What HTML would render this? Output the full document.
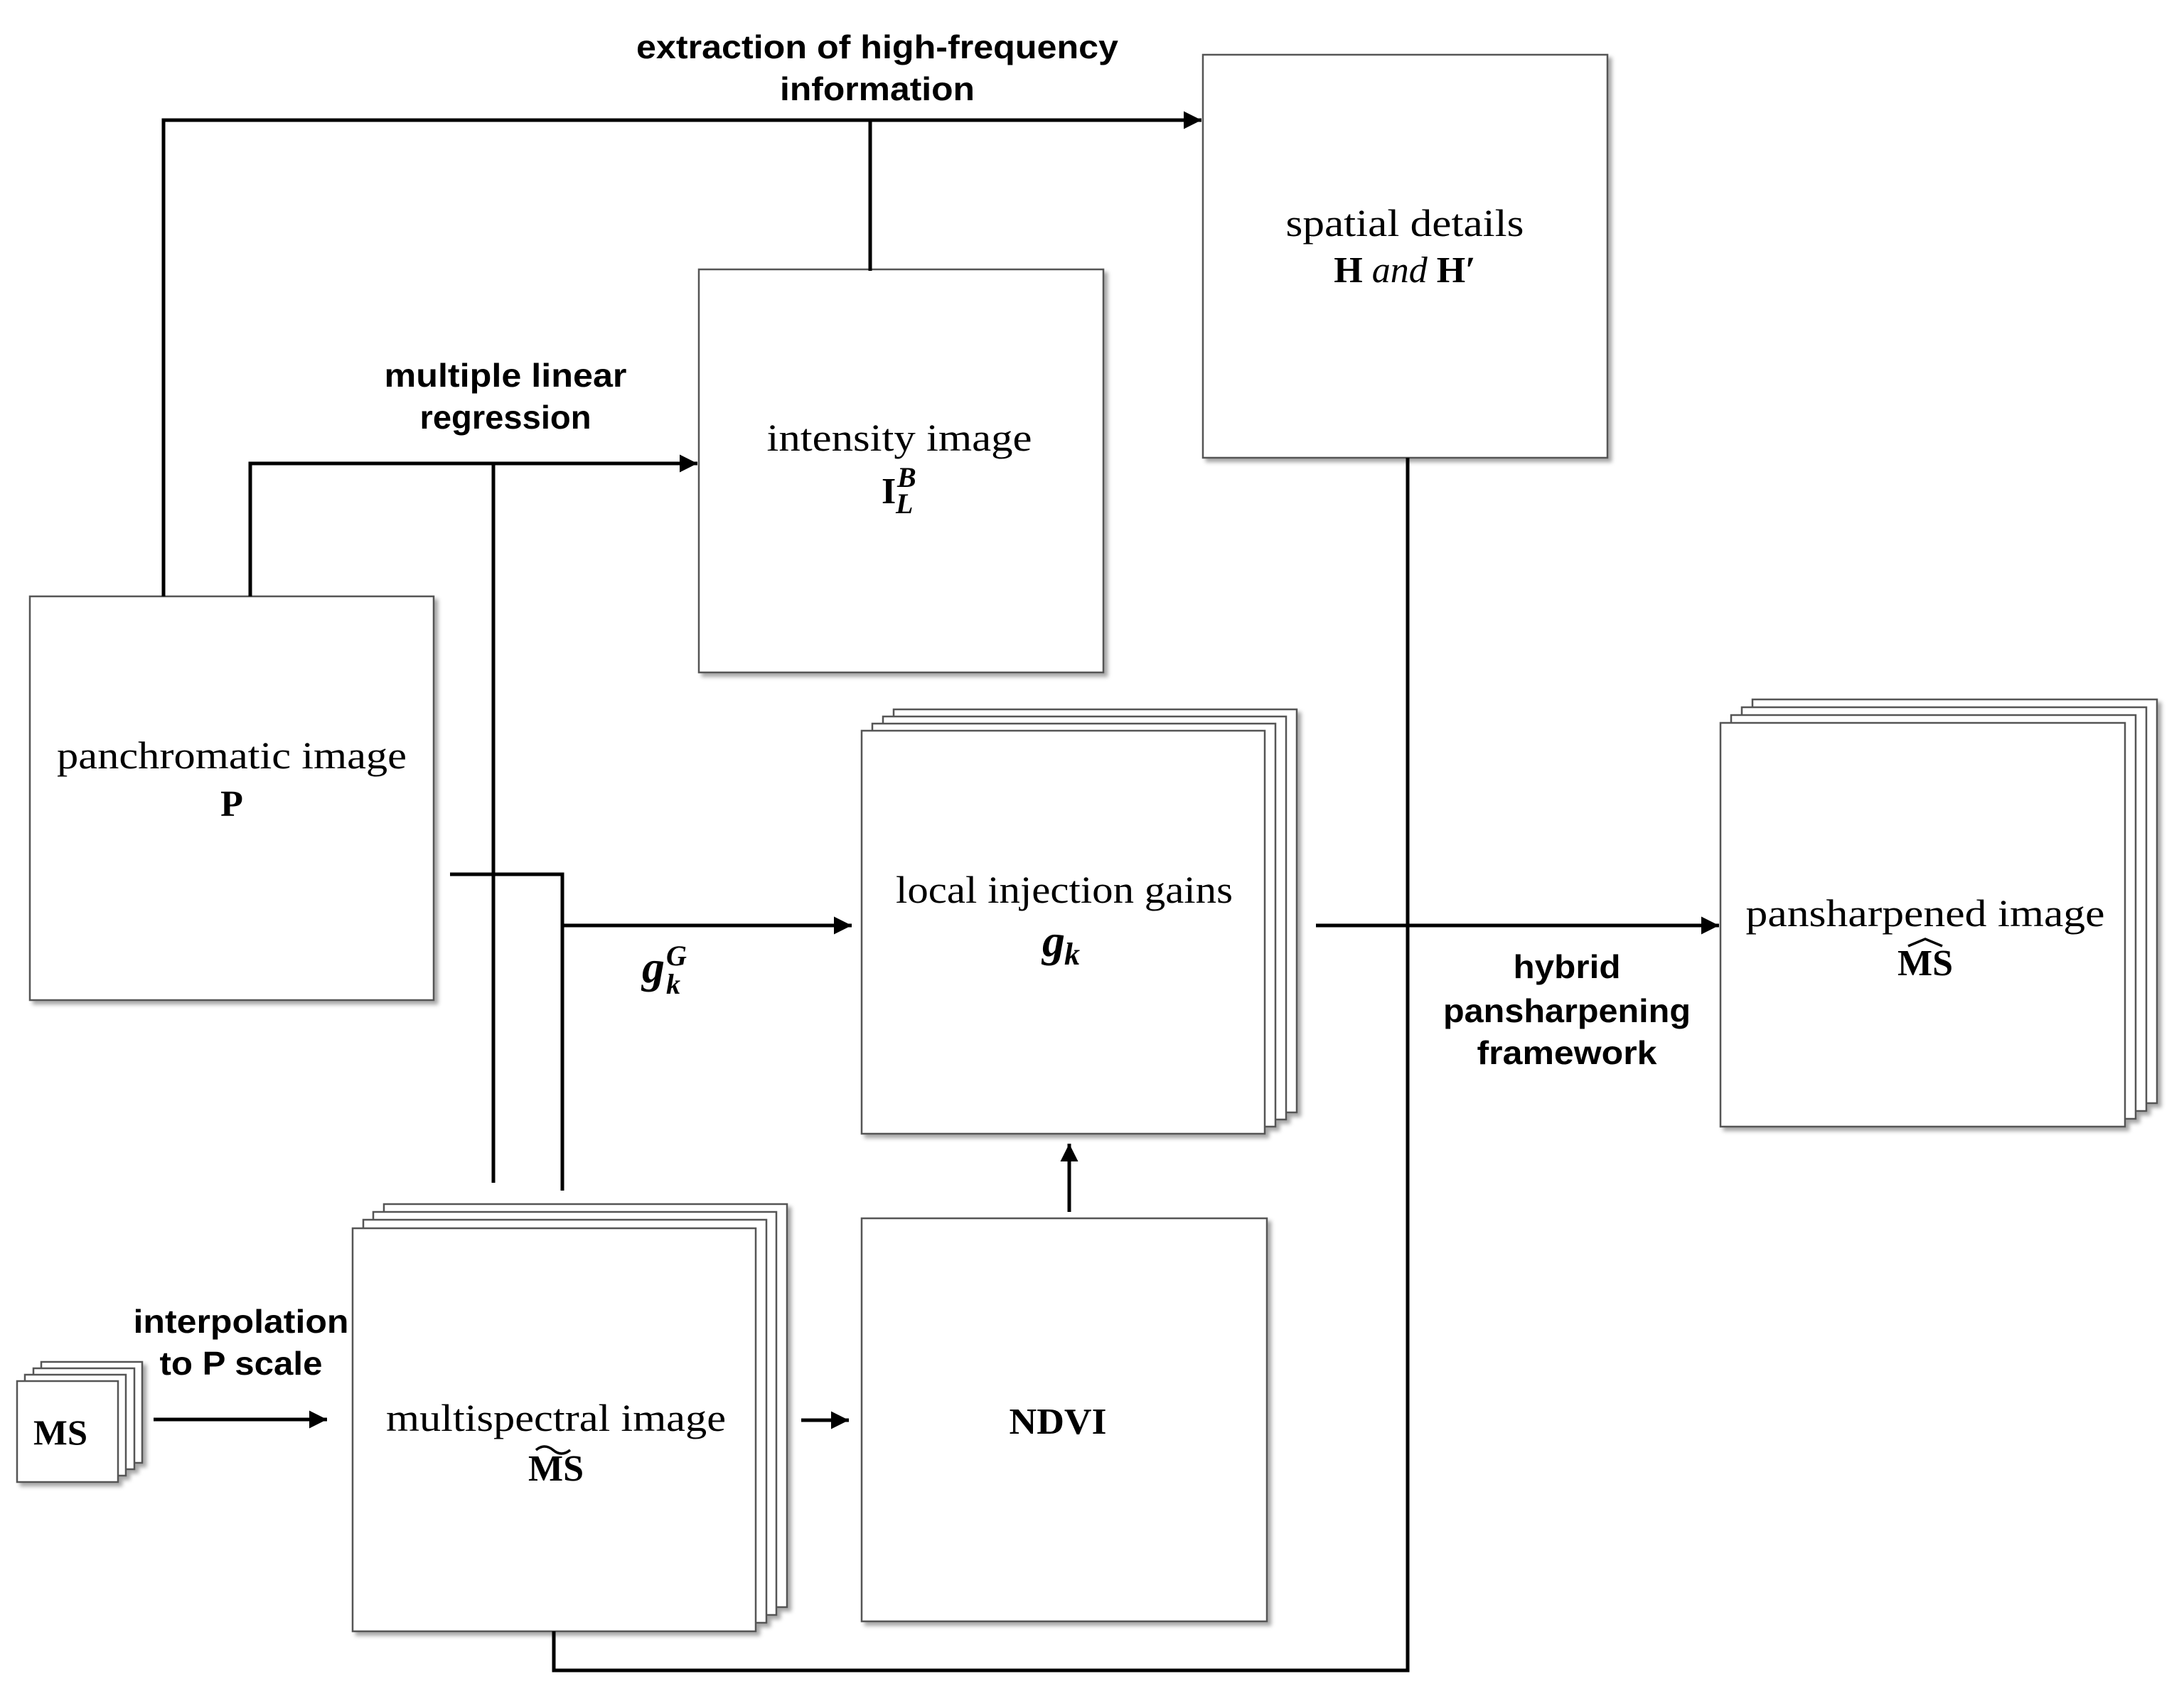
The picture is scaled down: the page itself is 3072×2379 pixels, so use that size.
<!DOCTYPE html>
<html><head><meta charset="utf-8"><style>
html,body{margin:0;padding:0;background:#fff;}
svg{display:block;}
.b{font-family:"Liberation Sans",sans-serif;font-weight:bold;font-size:46px;fill:#000;}
.s{font-family:"Liberation Serif",serif;font-size:54px;fill:#000;}
.m{font-family:"Liberation Serif",serif;font-size:52px;fill:#000;}
</style></head><body>
<svg width="3072" height="2379" viewBox="0 0 3072 2379" xmlns="http://www.w3.org/2000/svg">
<defs>
<filter id="sh" x="-5%" y="-5%" width="115%" height="115%">
<feDropShadow dx="5" dy="5" stdDeviation="3" flood-color="#000" flood-opacity="0.35"/>
</filter>
<marker id="ar" viewBox="0 0 10 10" refX="10" refY="5" markerWidth="5" markerHeight="5" orient="auto" markerUnits="strokeWidth">
<path d="M0,0 L10,5 L0,10 z" fill="#000"/>
</marker>
</defs>
<g fill="#fff" stroke="#555" stroke-width="2.5" filter="url(#sh)">
<rect x="1692" y="77" width="569" height="567"/>
<rect x="983" y="379" width="569" height="567"/>
<rect x="42" y="839" width="568" height="568"/>
<rect x="1257" y="998" width="567" height="567"/>
<rect x="1242" y="1008" width="567" height="567"/>
<rect x="1227" y="1018" width="567" height="567"/>
<rect x="1212" y="1028" width="567" height="567"/>
<rect x="2465" y="984" width="569" height="568"/>
<rect x="2450" y="995" width="569" height="568"/>
<rect x="2435" y="1006" width="569" height="568"/>
<rect x="2420" y="1017" width="569" height="568"/>
<rect x="1212" y="1714" width="570" height="567"/>
<rect x="540" y="1694" width="567" height="567"/>
<rect x="525" y="1705" width="567" height="567"/>
<rect x="511" y="1716" width="567" height="567"/>
<rect x="496" y="1728" width="567" height="567"/>
<rect x="58" y="1916" width="142" height="142"/>
<rect x="47" y="1925" width="142" height="142"/>
<rect x="35" y="1934" width="142" height="142"/>
<rect x="24" y="1943" width="142" height="142"/>
</g>
<g stroke="#000" stroke-width="5" fill="none">
<polyline points="230,839 230,169 1690,169" marker-end="url(#ar)"/>
<line x1="1224" y1="169" x2="1224" y2="381"/>
<polyline points="352,839 352,652 981,652" marker-end="url(#ar)"/>
<line x1="694" y1="652" x2="694" y2="1664"/>
<polyline points="633,1230 791,1230 791,1675"/>
<line x1="791" y1="1302" x2="1198" y2="1302" marker-end="url(#ar)"/>
<line x1="1851" y1="1302" x2="2418" y2="1302" marker-end="url(#ar)"/>
<polyline points="779,2295 779,2350 1980,2350 1980,644"/>
<line x1="1504" y1="1705" x2="1504" y2="1609" marker-end="url(#ar)"/>
<line x1="1127" y1="1998" x2="1194" y2="1998" marker-end="url(#ar)"/>
<line x1="216" y1="1997" x2="460" y2="1997" marker-end="url(#ar)"/>
</g>
<g class="b" text-anchor="middle">
<text x="1234" y="82" textLength="678" lengthAdjust="spacingAndGlyphs">extraction of high-frequency</text>
<text x="1234" y="141" textLength="274" lengthAdjust="spacingAndGlyphs">information</text>
<text x="711" y="544" textLength="341" lengthAdjust="spacingAndGlyphs">multiple linear</text>
<text x="711" y="603" textLength="241" lengthAdjust="spacingAndGlyphs">regression</text>
<text x="2204" y="1376" textLength="151" lengthAdjust="spacingAndGlyphs">hybrid</text>
<text x="2204" y="1438" textLength="348" lengthAdjust="spacingAndGlyphs">pansharpening</text>
<text x="2204" y="1497" textLength="253" lengthAdjust="spacingAndGlyphs">framework</text>
<text x="339" y="1875" textLength="303" lengthAdjust="spacingAndGlyphs">interpolation</text>
<text x="339" y="1934" textLength="229" lengthAdjust="spacingAndGlyphs">to P scale</text>
</g>
<g class="s" text-anchor="middle">
<text x="1976" y="332" textLength="335" lengthAdjust="spacingAndGlyphs">spatial details</text>
<text x="1265" y="634" textLength="373" lengthAdjust="spacingAndGlyphs">intensity image</text>
<text x="326" y="1081" textLength="492" lengthAdjust="spacingAndGlyphs">panchromatic image</text>
<text x="1497" y="1270" textLength="474" lengthAdjust="spacingAndGlyphs">local injection gains</text>
<text x="2708" y="1303" textLength="505" lengthAdjust="spacingAndGlyphs">pansharpened image</text>
<text x="782" y="2013" textLength="478" lengthAdjust="spacingAndGlyphs">multispectral image</text>
</g>
<g class="m" text-anchor="middle" font-weight="bold">
<text x="1976" y="397"><tspan font-weight="bold">H</tspan> <tspan font-style="italic" font-weight="normal">and</tspan> <tspan font-weight="bold">H′</tspan></text>
<text x="326" y="1148">P</text>
<text x="1488" y="2017" textLength="137" lengthAdjust="spacingAndGlyphs">NDVI</text>
<text x="85" y="2032" style="font-size:50px" textLength="76" lengthAdjust="spacingAndGlyphs">MS</text>
<text x="782" y="2083">MS</text>
<text x="2708" y="1372">MS</text>
</g>
<path d="M754,2040 q12,-10 24,0 q12,10 24,0" stroke="#000" stroke-width="3.5" fill="none"/>
<path d="M2684,1331 L2708,1321 L2732,1331" stroke="#000" stroke-width="3.5" fill="none"/>
<text x="1240" y="708" class="m" font-weight="bold">I</text>
<text x="1262" y="685" class="m" style="font-size:40px" font-style="italic" font-weight="bold">B</text>
<text x="1260" y="722" class="m" style="font-size:40px" font-style="italic" font-weight="bold">L</text>
<text x="1466" y="1345" class="m" style="font-size:64px" font-style="italic" font-weight="bold">g</text>
<text x="1497" y="1357" class="m" style="font-size:44px" font-style="italic" font-weight="bold">k</text>
<text x="903" y="1382" class="m" style="font-size:64px" font-style="italic" font-weight="bold">g</text>
<text x="937" y="1358" class="m" style="font-size:40px" font-style="italic" font-weight="bold">G</text>
<text x="937" y="1398" class="m" style="font-size:40px" font-style="italic" font-weight="bold">k</text>
</svg>
</body></html>
